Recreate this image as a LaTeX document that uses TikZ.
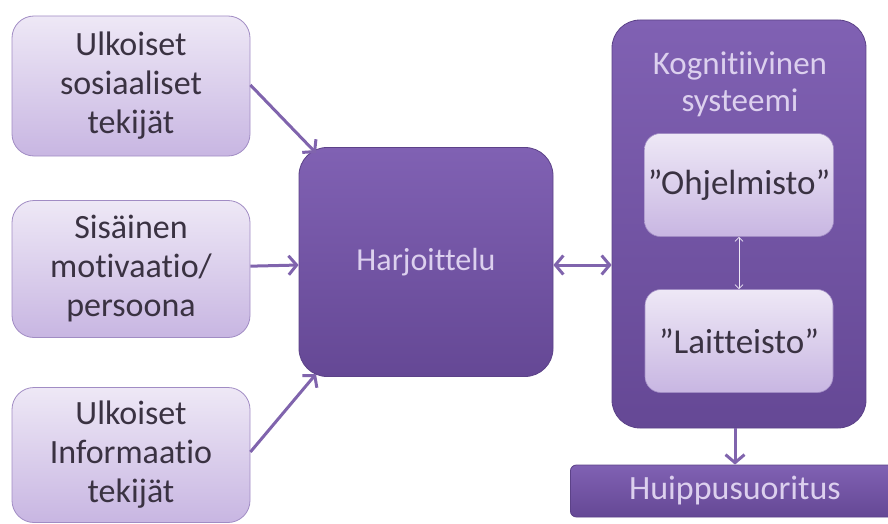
\documentclass[tikz,border=0pt]{standalone}
\usepackage{fontspec}
\setmainfont{Carlito}[Ligatures=NoCommon]
\usetikzlibrary{positioning,arrows.meta}

\definecolor{lightTop}{HTML}{EEE8F6}
\definecolor{lightBot}{HTML}{C8B6E2}
\definecolor{lightLine}{HTML}{A18CC4}
\definecolor{darkTop}{HTML}{8061B3}
\definecolor{darkBot}{HTML}{654895}
\definecolor{darkLine}{HTML}{5C4288}
\definecolor{darkText}{HTML}{DCD0EE}
\definecolor{boxText}{HTML}{3A3242}
\definecolor{arrowCol}{HTML}{8064AD}

\tikzset{
    barb/.tip={Straight Barb[length=8pt,width=19pt,line width=3pt]},
    smallbarb/.tip={Straight Barb[length=4pt,width=8pt]}
}

\begin{document}
\begin{tikzpicture}[
    x=1pt, y=-1pt,
    factor/.style={rectangle, rounded corners=22pt, minimum width=238pt, minimum height=140pt,
                   top color=lightTop, bottom color=lightBot, draw=lightLine, line width=0.8pt,
                   text=boxText, font=\fontsize{34}{39}\selectfont, align=center},
    core/.style={rectangle, rounded corners=28pt, top color=darkTop, bottom color=darkBot,
                 draw=darkLine, line width=0.8pt, text=darkText},
    part/.style={rectangle, rounded corners=16pt, minimum width=188pt, minimum height=103pt,
                 top color=lightTop, bottom color=lightBot, draw=lightLine, line width=0.6pt,
                 text=boxText, font=\fontsize{35}{40}\selectfont},
    arrow/.style={-barb, line width=3pt, arrowCol},
    thinarrow/.style={smallbarb-smallbarb, line width=0.8pt, lightTop}
]
\useasboundingbox (0,0) rectangle (888,524);

% Factors
\node[factor] (social) at (131,86) {Ulkoiset\\sosiaaliset\\tekijät};
\node[factor, minimum height=137pt] (motive) at (131,269) {Sisäinen\\motivaatio/\\persoona};
\node[factor, minimum height=135pt] (inform) at (131,455) {Ulkoiset\\Informaatio\\tekijät};

% Training
\node[core, minimum width=254pt, minimum height=229pt, font=\fontsize{32}{38}\selectfont]
    (training) at (426,262) {Harjoittelu};

% Cognitive system
\node[core, minimum width=254pt, minimum height=408pt] (system) at (739,224) {};
\node[text=darkText, font=\fontsize{33}{37}\selectfont, align=center]
    (systitle) at (740,84) {Kognitiivinen\\systeemi};
\node[part] (software) at (739,185) {”Ohjelmisto”};
\node[part] (hardware) at (739,341) {”Laitteisto”};

% Result
\node[core, rounded corners=6pt, minimum width=330pt, minimum height=52pt, anchor=west]
    (peak) at (570,491) {};
\node[text=darkText, font=\fontsize{34}{40}\selectfont] (peaklabel) at (735,491) {Huippusuoritus};

% Arrows
\draw[arrow] (social.east |- 0,85) -- (316,153);
\draw[arrow] (motive) -- (training);
\draw[arrow] (inform.east |- 0,452) -- (316,374);
\draw[arrow, barb-barb] (training.east |- 0,265) -- (system.west |- 0,265);
\draw[thinarrow] (software) -- (hardware);
\draw[arrow] (system.south -| peaklabel) -- (peak.north -| peaklabel);

\end{tikzpicture}
\end{document}
